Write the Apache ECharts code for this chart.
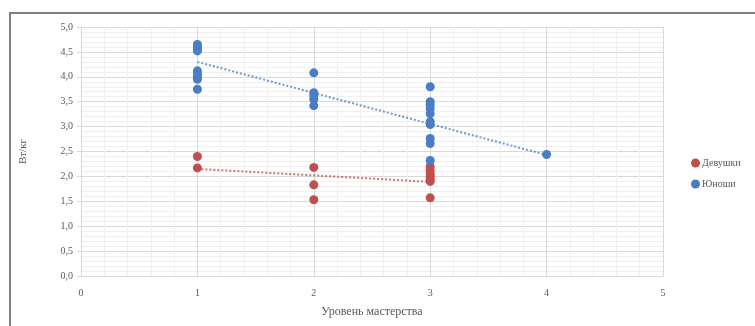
<!DOCTYPE html>
<html>
<head>
<meta charset="utf-8">
<script src="https://cdn.jsdelivr.net/npm/echarts@6/dist/echarts.min.js"></script>
<style>
  html, body { margin: 0; padding: 0; background: #fff; }
  #chart { width: 755px; height: 326px; }
</style>
</head>
<body>
<div id="chart"></div>
<script>
// Power-to-weight ratio (W/kg) by skill level
const seriesNames = ['Девушки', 'Юноши'];
const xTicks = [0, 1, 2, 3, 4, 5];

const girlsLevel = [1, 1, 2, 2, 2, 3, 3, 3, 3, 3, 3, 3];
const girlsWkg   = [2.40, 2.17, 2.18, 1.83, 1.53, 2.20, 2.12, 2.05, 2.00, 1.95, 1.90, 1.57];

const boysLevel = [1, 1, 1, 1, 1, 1, 1, 1, 1, 2, 2, 2, 2, 2, 3, 3, 3, 3, 3, 3, 3, 3, 3, 3, 4];
const boysWkg   = [4.65, 4.60, 4.55, 4.52, 4.12, 4.06, 4.00, 3.95, 3.75,
                   4.08, 3.68, 3.62, 3.55, 3.42,
                   3.80, 3.50, 3.44, 3.36, 3.26, 3.10, 3.04, 2.76, 2.66, 2.32,
                   2.44];

// linear trend lines (endpoints)
const girlsTrendX = [1, 3];
const girlsTrendY = [2.15, 1.89];
const boysTrendX = [1, 4];
const boysTrendY = [4.30, 2.43];

const zip = (xs, ys) => xs.map((x, i) => [x, ys[i]]);

const RED = '#c0504d';
const BLUE = '#4a7ec4';
const FONT = 'Liberation Serif';

const chart = echarts.init(document.getElementById('chart'));
chart.setOption({
  animation: false,
  backgroundColor: '#fff',
  textStyle: { fontFamily: FONT },
  graphic: [{
    type: 'rect',
    silent: true,
    shape: { x: 10, y: 13, width: 770, height: 340 },
    style: { fill: 'none', stroke: '#808080', lineWidth: 2 }
  }],
  grid: { left: 81, right: 92, top: 27, bottom: 50 },
  legend: {
    orient: 'vertical',
    left: 686,
    top: 153,
    itemGap: 11,
    itemWidth: 9,
    itemHeight: 9,
    icon: 'circle',
    data: seriesNames,
    textStyle: { fontFamily: FONT, fontSize: 10, color: '#595959', padding: [0, 0, 0, -3] }
  },
  xAxis: {
    type: 'value',
    min: 0, max: 5, interval: 1,
    name: 'Уровень мастерства',
    nameLocation: 'middle',
    nameGap: 30,
    nameTextStyle: { fontFamily: FONT, fontSize: 12, color: '#595959' },
    axisLine: { show: true, lineStyle: { color: '#d9d9d9' } },
    axisTick: { show: false },
    axisLabel: { fontFamily: FONT, fontSize: 10, color: '#595959', margin: 12,
                 formatter: v => xTicks.includes(v) ? String(v) : '' },
    splitLine: { show: true, lineStyle: { color: '#d9d9d9', width: 1 } },
    minorSplitLine: { show: true, lineStyle: { color: '#f0f0f0', width: 1 } },
    minorTick: { show: false, splitNumber: 5 }
  },
  yAxis: {
    type: 'value',
    min: 0, max: 5, interval: 0.5,
    name: 'Вт/кг',
    nameLocation: 'middle',
    nameGap: 52,
    nameRotate: 90,
    nameTextStyle: { fontFamily: FONT, fontSize: 11, color: '#595959' },
    axisLine: { show: true, lineStyle: { color: '#d9d9d9' } },
    axisTick: { show: true, length: 4, lineStyle: { color: '#d9d9d9' } },
    axisLabel: { fontFamily: FONT, fontSize: 10, color: '#595959', margin: 8,
                 formatter: v => v.toFixed(1).replace('.', ',') },
    splitLine: { show: true, lineStyle: { color: '#d9d9d9', width: 1 } },
    minorSplitLine: { show: true, lineStyle: { color: '#f0f0f0', width: 1 } },
    minorTick: { show: false, splitNumber: 5 }
  },
  series: [
    {
      name: seriesNames[0],
      type: 'scatter',
      symbolSize: 9,
      itemStyle: { color: RED, opacity: 1 },
      data: zip(girlsLevel, girlsWkg),
      z: 3
    },
    {
      name: seriesNames[1],
      type: 'scatter',
      symbolSize: 9,
      itemStyle: { color: BLUE, opacity: 1 },
      data: zip(boysLevel, boysWkg),
      z: 3
    },
    {
      name: 'trend-girls',
      type: 'line',
      symbol: 'none',
      silent: true,
      lineStyle: { color: RED, width: 2, type: [2, 2], opacity: 0.8 },
      data: zip(girlsTrendX, girlsTrendY),
      z: 2
    },
    {
      name: 'trend-boys',
      type: 'line',
      symbol: 'none',
      silent: true,
      lineStyle: { color: BLUE, width: 2, type: [2, 2], opacity: 0.8 },
      data: zip(boysTrendX, boysTrendY),
      z: 2
    }
  ]
});
</script>
</body>
</html>
